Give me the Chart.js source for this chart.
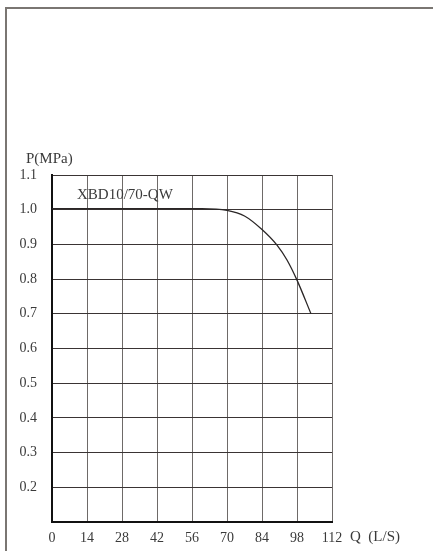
<!DOCTYPE html>
<html>
<head>
<meta charset="utf-8">
<script src="https://cdn.jsdelivr.net/npm/chart.js@4"></script>
<style>
  html, body { margin: 0; padding: 0; background: #fff; }
  #wrap { width: 433px; height: 551px; }
</style>
</head>
<body>
<div id="wrap"><canvas id="pumpchart" width="433" height="551"></canvas></div>
<script>
// flow Q (L/S) and pressure P (MPa)
var flowQ    = [0, 30, 60, 70, 77, 84, 90, 94, 98, 103.6];
var pressure = [1.003, 1.003, 1.003, 0.998, 0.982, 0.943, 0.898, 0.855, 0.797, 0.7];
var xTicks = [0, 14, 28, 42, 56, 70, 84, 98, 112];
var yTicks = [0.1, 0.2, 0.3, 0.4, 0.5, 0.6, 0.7, 0.8, 0.9, 1.0, 1.1];
var modelName = "XBD10/70-QW";

var serif = "'Liberation Serif', 'DejaVu Serif', serif";
Chart.defaults.font.family = serif;
Chart.defaults.font.size = 14;
Chart.defaults.color = "#3a3a3a";

var points = flowQ.map(function (q, i) { return { x: q, y: pressure[i] }; });

// frame, axis captions and model label
var extras = {
  id: "extras",
  afterDraw: function (chart) {
    var ctx = chart.ctx;
    var a = chart.chartArea;
    ctx.save();
    ctx.strokeStyle = "#7a7672";
    ctx.lineWidth = 2;
    ctx.beginPath();
    ctx.moveTo(6, 551);
    ctx.lineTo(6, 8);
    ctx.lineTo(433, 8);
    ctx.stroke();

    ctx.fillStyle = "#3a3a3a";
    ctx.font = "15px " + serif;
    ctx.textBaseline = "middle";
    ctx.textAlign = "left";
    ctx.fillText("P(MPa)", 26, 159);
    ctx.fillText(modelName, 77, 195);
    ctx.fillText("Q  (L/S)", a.right + 18, 537);
    ctx.restore();
  }
};

new Chart(document.getElementById("pumpchart"), {
  type: "line",
  data: {
    datasets: [{
      data: points,
      borderColor: "#2a2626",
      borderWidth: 1.3,
      pointRadius: 0,
      fill: false,
      cubicInterpolationMode: "monotone"
    }]
  },
  options: {
    responsive: false,
    animation: false,
    layout: { padding: { left: 0, right: 101, top: 175, bottom: 0 } },
    plugins: { legend: { display: false }, tooltip: { enabled: false } },
    scales: {
      x: {
        type: "linear",
        min: 0,
        max: 112,
        afterBuildTicks: function (s) { s.ticks = xTicks.map(function (v) { return { value: v }; }); },
        afterFit: function (s) { s.height = 29; },
        grid: { color: "#6e6a68", lineWidth: 1, drawTicks: false },
        border: { color: "#111", width: 2 },
        ticks: { padding: 8, autoSkip: false, maxRotation: 0 }
      },
      y: {
        min: 0.1,
        max: 1.1,
        afterBuildTicks: function (s) { s.ticks = yTicks.map(function (v) { return { value: v }; }); },
        afterFit: function (s) { s.width = 52; },
        grid: { color: "#3a3434", lineWidth: 1, drawTicks: false },
        border: { color: "#111", width: 2 },
        ticks: {
          padding: 15,
          callback: function (v) { return v < 0.15 ? "" : v.toFixed(1); }
        }
      }
    }
  },
  plugins: [extras]
});
</script>
</body>
</html>
